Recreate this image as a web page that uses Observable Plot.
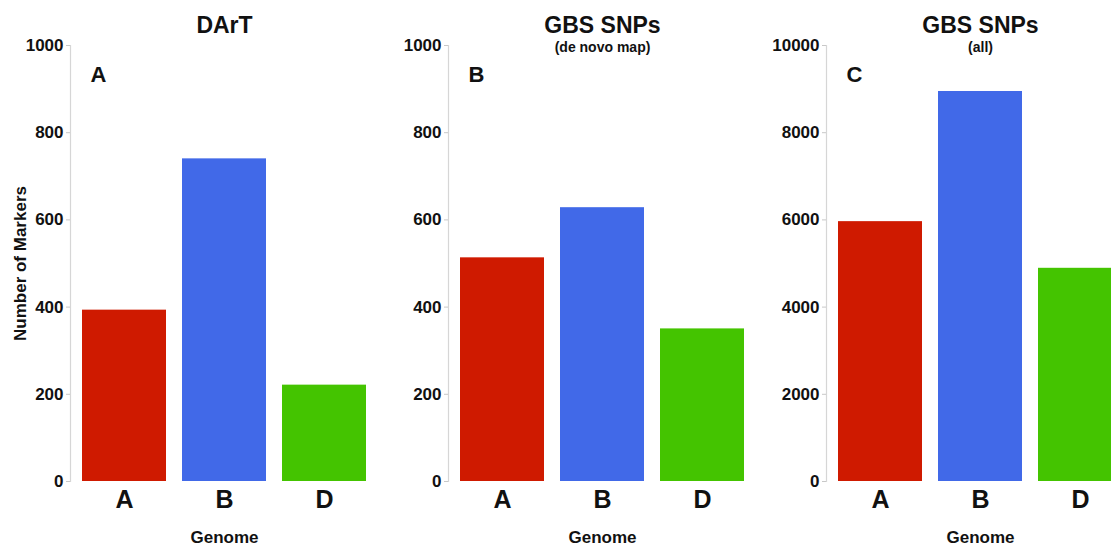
<!DOCTYPE html>
<html>
<head>
<meta charset="utf-8">
<script src="https://cdn.jsdelivr.net/npm/d3@7"></script>
<script src="https://cdn.jsdelivr.net/npm/@observablehq/plot@0.6"></script>
<style>
  html, body { margin: 0; padding: 0; background: #fff; }
  #wrap { position: relative; width: 1111px; height: 547px; overflow: hidden; background: #fff; }
  #wrap > div { position: absolute; top: 0; width: 378px; height: 547px; }
  #wrap svg { max-width: none !important; }
</style>
</head>
<body>
<div id="wrap">
  <div id="p1" style="left:0px"></div>
  <div id="p2" style="left:378px"></div>
  <div id="p3" style="left:756px"></div>
</div>
<script>
// ---- data ----
const genomes = ["A", "B", "D"];
const genomeColors = ["#CF1A00", "#4169E8", "#44C400"];
const dartCounts = [393, 740, 221];
const gbsDeNovoCounts = [513, 628, 350];
const gbsAllCounts = [5960, 8945, 4890];
const panelTitles = ["DArT", "GBS SNPs", "GBS SNPs"];
const panelSubtitles = ["", "(de novo map)", "(all)"];
const panelLetters = ["A", "B", "C"];
const ticksSmall = [0, 200, 400, 600, 800, 1000];
const ticksLarge = [0, 2000, 4000, 6000, 8000, 10000];
const yLabel = "Number of Markers";
const xLabel = "Genome";

function panel(counts, title, subtitle, letter, yMax, ticks, showYLabel) {
  const data = genomes.map((g, i) => ({genome: g, count: counts[i]}));
  const marks = [
    Plot.frame({anchor: "left", stroke: "#d6d6d6", strokeWidth: 1.2}),
    Plot.barY(data, {x: "genome", y: "count", fill: "genome"}),
    Plot.axisY({ticks, tickSize: 4, tickPadding: 3, stroke: "#c8c8c8", fill: "#111",
      tickFormat: d => String(d), fontSize: 17, fontWeight: "bold", label: null}),
    Plot.axisX({tickSize: 0, tickPadding: 9, fontSize: 25, fontWeight: "bold", fill: "#111", label: null}),
    Plot.text([title], {text: d => d, frameAnchor: "top", lineAnchor: "top", dy: -29, fontSize: 23, fontWeight: "bold", fill: "#111"}),
    Plot.text([letter], {text: d => d, frameAnchor: "top-left", lineAnchor: "top", dx: 20, dy: 21, textAnchor: "start", fontSize: 22, fontWeight: "bold", fill: "#111"}),
    Plot.text([xLabel], {text: d => d, frameAnchor: "bottom", lineAnchor: "bottom", dy: 61, fontSize: 17, fontWeight: "bold", fill: "#111"})
  ];
  if (subtitle) marks.push(Plot.text([subtitle], {text: d => d, frameAnchor: "top", lineAnchor: "top", dy: -3, fontSize: 14, fontWeight: "bold", fill: "#111"}));
  if (showYLabel) marks.push(Plot.text([yLabel], {text: d => d, frameAnchor: "left", textAnchor: "middle", lineAnchor: "middle", dx: -50, rotate: -90, fontSize: 17, fontWeight: "bold", fill: "#111"}));
  return Plot.plot({
    width: 378,
    height: 547,
    marginLeft: 70,
    marginRight: 0,
    marginTop: 45,
    marginBottom: 66,
    style: {fontFamily: "Liberation Sans, Arial, sans-serif", fontWeight: "bold", background: "#fff", overflow: "visible", maxWidth: "none"},
    x: {domain: genomes, paddingInner: 0.16, paddingOuter: 0.12, axis: null},
    y: {domain: [0, yMax], axis: null},
    color: {domain: genomes, range: genomeColors},
    marks
  });
}

document.getElementById("p1").append(panel(dartCounts, panelTitles[0], panelSubtitles[0], panelLetters[0], 1000, ticksSmall, true));
document.getElementById("p2").append(panel(gbsDeNovoCounts, panelTitles[1], panelSubtitles[1], panelLetters[1], 1000, ticksSmall, false));
document.getElementById("p3").append(panel(gbsAllCounts, panelTitles[2], panelSubtitles[2], panelLetters[2], 10000, ticksLarge, false));
</script>
</body>
</html>
